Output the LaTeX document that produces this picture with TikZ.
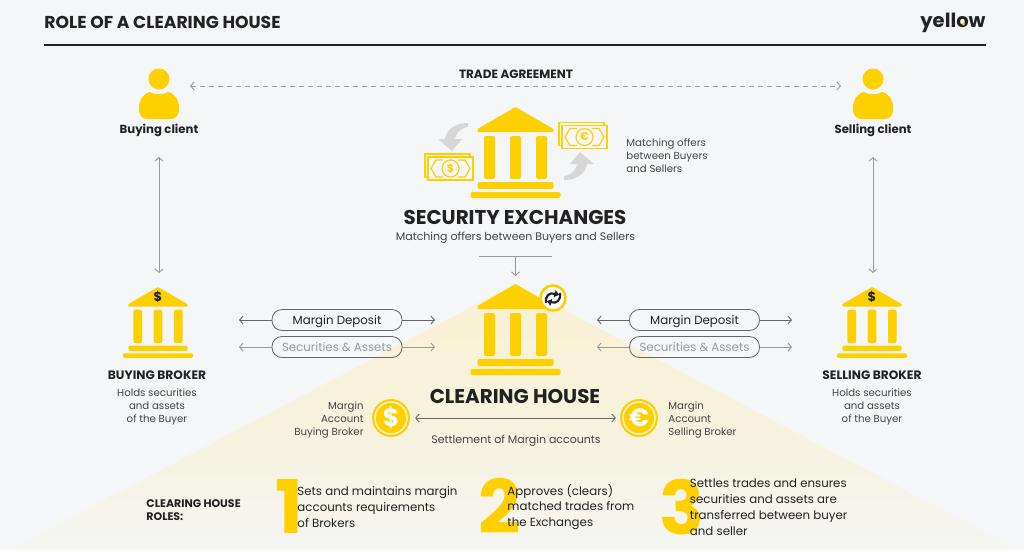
\documentclass[tikz,border=0pt]{standalone}
\usepackage{fontspec}
\usetikzlibrary{arrows.meta}
\setmainfont{Poppins}

\definecolor{yel}{HTML}{FFD000}
\definecolor{pagebg}{HTML}{F5F6F8}
\definecolor{palebg}{HTML}{F8F1D3}
\definecolor{lowbg}{HTML}{F5F5F3}
\definecolor{ink}{HTML}{222222}
\definecolor{body}{HTML}{444444}
\definecolor{linegrey}{HTML}{666666}
\definecolor{faded}{HTML}{9A9A9A}
\definecolor{arrowgrey}{HTML}{D6D6D6}

\tikzset{
  >={Straight Barb[length=3.5pt,width=8pt]},
  txt/.style={inner sep=0pt, text=body, font=\fontsize{10.2}{13}\selectfont, align=center},
  head/.style={inner sep=0pt, text=ink, font=\fontsize{19.9}{22}\selectfont\bfseries, align=center},
  sub/.style={inner sep=0pt, text=ink, font=\fontsize{12.2}{13}\selectfont\bfseries, align=center},
  role/.style={inner sep=0pt, text=ink, anchor=west, font=\fontsize{11.8}{15.8}\selectfont, align=left},
  bignum/.style={inner sep=0pt, text=yel, font=\fontsize{74}{74}\selectfont\bfseries},
  pill/.style={draw=linegrey, rounded corners=10pt, line width=.8pt, minimum width=130pt, minimum height=21pt,
    inner sep=0pt, text height=8pt, text depth=0pt, font=\fontsize{11.8}{13}\selectfont},
  coin/.style={circle, fill=yel, draw=yel, double=palebg, double distance=1.5pt, line width=2.2pt,
    minimum size=32pt, inner sep=0pt, text=white, font=\fontsize{25}{25}\selectfont\bfseries},
  sym/.style={inner sep=0pt, text=ink, font=\fontsize{13}{13}\selectfont\bfseries},
  pics/bank/.style={code={
    \fill[yel, rounded corners=.8pt] (0,0) -- (38,22) -- (38,25) -- (-38,25) -- (-38,22) -- cycle;
    \foreach \c in {-26,0,26}
      \fill[yel, rounded corners=2pt] (\c-5.5,29) rectangle (\c+5.5,72);
    \fill[yel, rounded corners=2pt] (-38,75) rectangle (38,82);
    \fill[yel, rounded corners=2pt] (-45,85) rectangle (45,91);
  }},
  pics/person/.style={code={
    \fill[yel] (0,-13) circle (10.5);
    \fill[yel] (-20,16) .. controls (-20,7) and (-15,1) .. (-9,0)
      .. controls (-5,3) and (5,3) .. (9,0) .. controls (15,1) and (20,7) .. (20,16)
      .. controls (20,24) and (17,27) .. (11,27) -- (-11,27) .. controls (-17,27) and (-20,24) .. (-20,16) -- cycle;
  }},
  pics/note/.style={code={
    \draw[yel, line width=1.6pt, fill=pagebg] (-24,-13) rectangle (21,10);
    \draw[yel, line width=1.6pt, fill=pagebg] (-21,-10) rectangle (24,13);
    \draw[yel, line width=1.2pt] (-6,-7) -- (-13,-7) -- (-18,1.5) -- (-13,10) -- (-6,10);
    \draw[yel, line width=1.2pt] (9,-7) -- (16,-7) -- (21,1.5) -- (16,10) -- (9,10);
    \node[circle, draw=yel, line width=1.2pt, fill=pagebg, minimum size=17pt, inner sep=0pt, text=yel,
      font=\fontsize{11}{11}\selectfont\bfseries] at (1.5,1.5) {#1};
  }},
  pics/swirl/.style={code={
    \fill[arrowgrey] (16,-28) .. controls (3,-28) and (-6,-21) .. (-7,-12) -- (-14,-12) -- (0,0)
      -- (10,-12) -- (3,-12) .. controls (4,-18) and (8,-23) .. (16,-24) -- cycle;
  }}
}

\begin{document}
\begin{tikzpicture}
  [x=1pt, y=-1pt, line width=.9pt]
  \useasboundingbox (0,0) rectangle (1024,550);
  \fill[pagebg] (0,0) rectangle (1024,550);

  % pale triangle behind the clearing house
  \shade[top color=palebg, bottom color=lowbg, middle color=palebg!70!lowbg] (515,284) -- (1018,550) -- (9,550) -- cycle;

  % header
  \node[inner sep=0pt, anchor=west, text=ink, font=\fontsize{17.2}{18}\selectfont\bfseries] (title) at (44,22) {ROLE OF A CLEARING HOUSE};
  \node[inner sep=0pt, anchor=east, text=ink, font=\fontsize{19.5}{20}\selectfont\bfseries] (logo) at (986,23) {yellow};
  \fill[yel] (963.5,24) circle (1.6);
  \coordinate (rulel) at (44,45);
  \coordinate (ruler) at (986,45);
  \draw[ink, line width=1.4pt] (rulel) -- (ruler);

  % icons
  \pic at (159,92) {person};
  \pic at (873,92) {person};
  \pic at (515.5,107) {bank};
  \pic at (515.5,284) {bank};
  \pic[scale=.78] at (158,287) {bank};
  \pic[scale=.78] at (872,287) {bank};
  \pic at (449,167) {note={\$}};
  \pic at (583,135.5) {note={€}};
  \pic at (452,151) {swirl};
  \pic[rotate=180] at (580,152) {swirl};
  \node[sym] (dollarl) at (158,297) {\$};
  \node[sym] (dollarr) at (872,297) {\$};

  % texts
  \node[txt, font=\fontsize{11.7}{13}\selectfont\bfseries, text=ink] (clientb) at (159,130.5) {Buying client};
  \node[txt, font=\fontsize{11.7}{13}\selectfont\bfseries, text=ink] (clients) at (873,130.5) {Selling client};
  \node[sub, font=\fontsize{12}{13}\selectfont\bfseries] (trade) at (516,74.5) {TRADE AGREEMENT};
  \node[txt, anchor=west, align=left] (offers) at (626,156) {Matching offers\\between Buyers\\and Sellers};
  \node[head] (exch) at (515,217.5) {SECURITY EXCHANGES};
  \node[txt, font=\fontsize{11}{13}\selectfont] (exchsub) at (515.5,237.5) {Matching offers between Buyers and Sellers};
  \node[head] (house) at (515,396.5) {CLEARING HOUSE};
  \node[txt, font=\fontsize{11}{13}\selectfont] (settle) at (516,440.5) {Settlement of Margin accounts};
  \node[sub] (brokerb) at (157,375) {BUYING BROKER};
  \node[sub] (brokers) at (872,375) {SELLING BROKER};
  \node[txt] (holdb) at (157,407) {Holds securities\\and assets\\of the Buyer};
  \node[txt] (holds) at (872,407) {Holds securities\\and assets\\of the Buyer};
  \node[txt, anchor=east, align=right] (accb) at (364,420) {Margin\\Account\\Buying Broker};
  \node[txt, anchor=west, align=left] (accs) at (668,420) {Margin\\Account\\Selling Broker};

  % pills
  \node[pill, text=ink] (depl) at (337,320) {Margin Deposit};
  \node[pill, text=faded] (secl) at (337,347) {Securities \& Assets};
  \node[pill, text=ink] (depr) at (694.5,320) {Margin Deposit};
  \node[pill, text=faded] (secr) at (694.5,347) {Securities \& Assets};

  % coins
  \node[coin] (coinb) at (391,418) {\$};
  \node[coin] (coine) at (639,418) {€};

  % sync badge
  \node[circle, draw=yel, fill=white, line width=2.6pt, minimum size=25pt, inner sep=0pt] (sync) at (553,298) {};
  \draw[ink, line width=2.2pt, -{Latex[length=5pt,width=8pt]}] (546,303) .. controls (545,296) and (549,292) .. (559.5,295);
  \draw[ink, line width=2.2pt, -{Latex[length=5pt,width=8pt]}] (560,293) .. controls (561,300) and (557,304) .. (546.5,301);

  % roles
  \node[sub, anchor=west, align=left, font=\fontsize{11}{13}\selectfont\bfseries] (roles) at (146,510) {CLEARING HOUSE\\ROLES:};
  \node[bignum] (num1) at (289,506) {1};
  \node[bignum] (num2) at (500,506) {2};
  \node[bignum] (num3) at (682,507.5) {3};
  \node[role] (role1) at (297,507) {Sets and maintains margin\\accounts requirements\\of Brokers};
  \node[role] (role2) at (507,507) {Approves (clears)\\matched trades from\\the Exchanges};
  \node[role] (role3) at (689.5,507) {Settles trades and ensures\\securities and assets are\\transferred between buyer\\and seller};

  % free ends of the connectors
  \coordinate (tradel) at (190,86);
  \coordinate (trader) at (841,86);
  \coordinate (clbtop) at (159,157);
  \coordinate (clbbot) at (159,273);
  \coordinate (clstop) at (873,157);
  \coordinate (clsbot) at (873,273);
  \coordinate (linel) at (479,256);
  \coordinate (liner) at (552,256);
  \coordinate (linem) at (515.5,256);
  \coordinate (downend) at (515.5,276);
  \coordinate (dl1) at (239,320);
  \coordinate (dl2) at (435,320);
  \coordinate (sl1) at (239,347);
  \coordinate (sl2) at (435,347);
  \coordinate (dr1) at (597,320);
  \coordinate (dr2) at (792,320);
  \coordinate (sr1) at (597,347);
  \coordinate (sr2) at (792,347);

  \draw[faded, dash pattern=on 5pt off 4pt, <->] (tradel) -- (trader);
  \foreach \from/\to in {clbtop/clbbot,clstop/clsbot}
  \draw[faded, <->] (\from) -- (\to);
  \draw[faded] (linel) -- (liner);
  \draw[faded, ->] (linem) -- (downend);
  \foreach \from/\to in {depl.west/dl1,depl.east/dl2,depr.west/dr1,depr.east/dr2}
  \draw[linegrey, ->] (\from) -- (\to);
  \foreach \from/\to in {secl.west/sl1,secl.east/sl2,secr.west/sr1,secr.east/sr2}
  \draw[faded, ->] (\from) -- (\to);
  \draw[linegrey, <->, shorten <=7pt, shorten >=6pt] (coinb) -- (coine);
\end{tikzpicture}
\end{document}
